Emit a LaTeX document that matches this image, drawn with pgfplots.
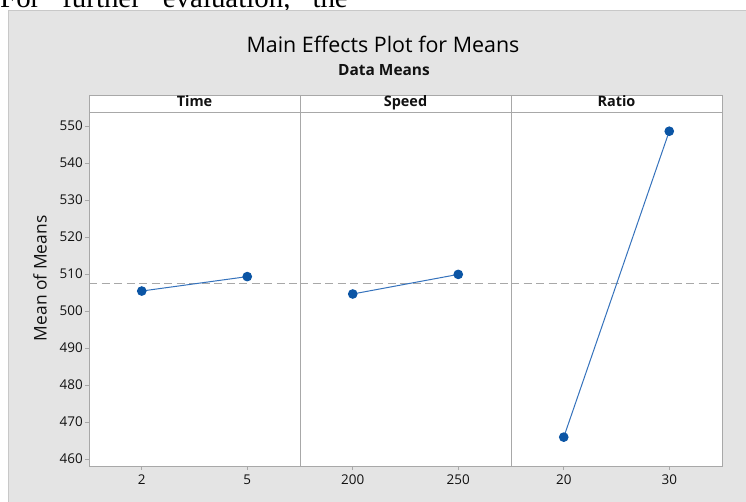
\documentclass[border=0pt]{standalone}
\usepackage{fontspec}
\setmainfont{Open Sans}
\newfontfamily\serifont{Liberation Serif}
\usepackage{pgfplots}
\pgfplotsset{compat=1.18}
\definecolor{bggrey}{HTML}{E4E4E4}
\definecolor{bgborder}{HTML}{C8C8C8}
\definecolor{framegrey}{HTML}{A8A8A8}
\definecolor{dashgrey}{HTML}{A8A8A8}
\definecolor{markblue}{HTML}{0B55A5}
\definecolor{lineblue}{HTML}{3572BC}
\definecolor{txt}{HTML}{111111}
\pgfplotsset{
  panel/.style={
    at={(#1bp,36bp)}, anchor=south west, scale only axis,
    width=211bp, height=354bp,
    ymin=458.1, ymax=553.8,
    axis background/.style={fill=white},
    axis line style={framegrey, line width=0.8bp},
    tick style={framegrey, line width=0.8bp},
    tick align=outside, major tick length=4bp,
    xtick pos=bottom, ytick pos=left,
    ytick=\empty,
    /pgf/number format/assume math mode=true,
    /pgf/number format/1000 sep={},
    ticklabel style={font=\fontsize{13.5}{13.5}\selectfont, text=txt},
    xticklabel style={anchor=north, inner sep=0pt, yshift=-5bp},
    yticklabel style={anchor=east, inner sep=0pt, xshift=-2bp},
  },
  effect/.style={lineblue, line width=1bp, mark=*, mark size=4.3bp,
    mark options={fill=markblue, draw=markblue, solid}},
  meanline/.style={dashgrey, line width=1bp, dash pattern=on 8bp off 4.5bp},
}
\begin{document}
\begin{tikzpicture}
\useasboundingbox (0,0) rectangle (746bp,502bp);
\clip (0,0) rectangle (746bp,502bp);
\fill[white] (0,0) rectangle (746bp,502bp);
\node[anchor=base west, inner sep=0pt, font=\serifont\fontsize{29}{29}\selectfont] at (0bp,494.5bp)
  {For\hspace{22bp}further\hspace{22bp}evaluation,\hspace{22bp}the};
\filldraw[fill=bggrey, draw=bgborder, line width=1bp] (8bp,-5bp) rectangle (760bp,491bp);

% titles
\node[anchor=base, inner sep=0pt, font=\fontsize{21.5}{21.5}\selectfont, text=black] at (383bp,449bp) {Main Effects Plot for Means};
\node[anchor=base, inner sep=0pt, font=\bfseries\fontsize{15.5}{15.5}\selectfont, text=txt] at (384bp,426bp) {Data Means};

% Time
\begin{axis}[panel=89, xmin=0.5, xmax=6.5, xtick={2,5},
  ytick={460,470,...,550},
  ylabel={Mean of Means},
  ylabel style={at={(axis description cs:-0.232,0.53)}, anchor=center, font=\fontsize{17.5}{17.5}\selectfont, text=txt}]
\addplot[meanline] coordinates {(0.5,507.4) (6.5,507.4)};
\addplot[effect] coordinates {(2,505.4) (5,509.3)};
\end{axis}

% Speed
\begin{axis}[panel=300, xmin=175, xmax=275, xtick={200,250}]
\addplot[meanline] coordinates {(175,507.4) (275,507.4)};
\addplot[effect] coordinates {(200,504.6) (250,509.9)};
\end{axis}

% Ratio
\begin{axis}[panel=511, xmin=15, xmax=35, xtick={20,30}]
\addplot[meanline] coordinates {(15,507.4) (35,507.4)};
\addplot[effect] coordinates {(20,465.9) (30,548.6)};
\end{axis}

% strip
\draw[framegrey, line width=0.8bp, fill=white] (89bp,390bp) rectangle (722bp,407bp);
\draw[framegrey, line width=0.8bp] (300bp,390bp) -- (300bp,407bp) (511bp,390bp) -- (511bp,407bp);
\begin{scope}[every node/.style={anchor=base, inner sep=0pt, font=\bfseries\fontsize{14.5}{14.5}\selectfont, text=txt}]
\node at (194.5bp,395bp) {Time};
\node at (405.5bp,395bp) {Speed};
\node at (616.5bp,395bp) {Ratio};
\end{scope}
\end{tikzpicture}
\end{document}
